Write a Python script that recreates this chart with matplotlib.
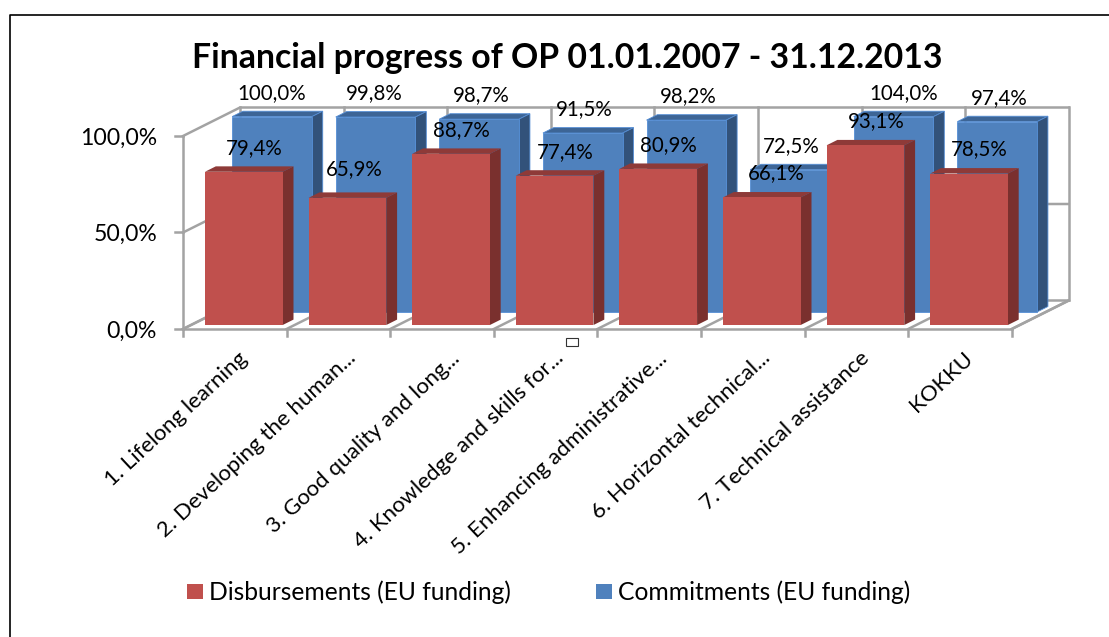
import matplotlib
matplotlib.use('Agg')
import matplotlib.pyplot as plt
from matplotlib.lines import Line2D
from matplotlib.patches import Polygon, Rectangle

plt.rcParams['font.family'] = ['Lato', 'DejaVu Sans']

# Data
categories = ['1. Lifelong learning', '2. Developing the human...', '3. Good quality and long...',
              '4. Knowledge and skills for...', '5. Enhancing administrative...',
              '6. Horizontal technical...', '7. Technical assistance', 'KOKKU']
disbursements = [79.4, 65.9, 88.7, 77.4, 80.9, 66.1, 93.1, 78.5]
commitments = [100.0, 99.8, 98.7, 91.5, 98.2, 72.5, 104.0, 97.4]
y_ticks = [0, 50, 100]
y_max = 100

W, H = 1109, 637
X0, Y0 = 183, 329      # pixel position of the front axis corner
CAT_W, PCT_H = 103.6, 1.93
DEPTH_X = 57 / CAT_W   # wall depth in data units
DEPTH_Y = 28.5 / PCT_H
GRID = '#A3A3A3'

# hand placed labels in the original
blue_nudge = {0: (-2, 0), 1: (-3, 0), 6: (9, 0)}
red_nudge = {1: (-4, 5), 5: (4, 0)}


def fmt(v):
    return f'{v:.1f}%'.replace('.', ',')


def proj(x, y, d=0.0):
    return (x + d * DEPTH_X, y + d * DEPTH_Y)


def draw_bar(ax, i, value, left, width, d, thick, colors, bottom=0.0, edge=None):
    front, top, side = colors
    v = min(value, y_max)
    xl, xr = i + left, i + left + width
    ec = edge if edge else 'none'
    ax.add_patch(Polygon([proj(xl, v, d), proj(xr, v, d), proj(xr, v, d + thick), proj(xl, v, d + thick)],
                         fc=top, ec=ec, lw=0.6, zorder=3 + i))
    ax.add_patch(Polygon([proj(xr, bottom, d), proj(xr, v, d), proj(xr, v, d + thick), proj(xr, bottom, d + thick)],
                         fc=side, ec=ec, lw=0.6, zorder=3 + i))
    ax.add_patch(Polygon([proj(xl, bottom, d), proj(xr, bottom, d), proj(xr, v, d), proj(xl, v, d)],
                         fc=front, ec=ec, lw=0.6, zorder=3 + i))


fig = plt.figure(figsize=(W / 100, H / 100), dpi=100)
ax = fig.add_axes([0, 0, 1, 1])
ax.set_xlim(-X0 / CAT_W, (W - X0) / CAT_W)
ax.set_ylim(-(H - Y0) / PCT_H, Y0 / PCT_H)
ax.axis('off')

n = len(categories)
grid_kw = dict(color=GRID, lw=1.8, zorder=1, solid_capstyle='projecting')

# walls and gridlines
for t in y_ticks:
    ax.plot(*zip(proj(0, t), proj(0, t, 1), proj(n, t, 1)), **grid_kw)
    ax.plot([-8 / CAT_W, 0], [t, t], **grid_kw)
ax.plot([0, 0], [0, y_max], **grid_kw)
ax.plot([0, n], [0, 0], **grid_kw)
ax.plot(*zip(proj(n, 0), proj(n, 0, 1)), **grid_kw)
for i in range(n + 1):
    ax.plot(*zip(proj(i, 0, 1), proj(i, y_max, 1)), **grid_kw)
    ax.plot(*zip(proj(i, 0), proj(i, 0, 1)), **grid_kw)
    ax.plot([i, i], [0, -7 / PCT_H], **grid_kw)

# bars
for i, v in enumerate(commitments):
    draw_bar(ax, i, v, 0.10, 0.77, 0.68, 0.19, ('#4F81BD', '#3D6596', '#32527A'), bottom=-1.2, edge='#558ED5')
for i, v in enumerate(disbursements):
    draw_bar(ax, i, v, 0.135, 0.75, 0.14, 0.19, ('#C0504D', '#8E3A38', '#7A302E'))

# data labels, drawn above the bars
for i, v in enumerate(commitments):
    x, y = proj(i + 0.50, min(v, y_max), 0.68)
    dx, dy = blue_nudge.get(i, (0, 0))
    ax.annotate(fmt(v), (x, y), xytext=(dx, 24 + dy), textcoords='offset pixels', ha='center', va='center',
                fontsize=14.8, color='black', zorder=30)
for i, v in enumerate(disbursements):
    x, y = proj(i + 0.61, v, 0.14)
    dx, dy = red_nudge.get(i, (0, 0))
    ax.annotate(fmt(v), (x, y), xytext=(dx, 24 + dy), textcoords='offset pixels', ha='center', va='center',
                fontsize=14.8, color='black', zorder=30)

# axis labels
for t in y_ticks:
    ax.annotate(fmt(t), (0, t), xytext=(-26, -2), textcoords='offset pixels', ha='right', va='center',
                fontsize=16.6, color='black')
for i, c in enumerate(categories):
    # the shortened names sit a bit further right
    dx = 8 if c.endswith('...') else 3
    ax.annotate(c, (i + 0.5, 0), xytext=(dx, -19), textcoords='offset pixels', ha='right', va='top',
                rotation=43, rotation_mode='anchor', fontsize=16, color='black')

fig.text(567.5 / W, 1 - 58 / H, 'Financial progress of OP 01.01.2007 - 31.12.2013', ha='center', va='center',
         fontsize=24.35, fontweight='bold', color='black')

# legend
for lx, col, lab in [(187, '#C0504D', 'Disbursements (EU funding)'), (596, '#4F81BD', 'Commitments (EU funding)')]:
    fig.add_artist(Rectangle((lx / W, 1 - 599 / H), 16 / W, 15 / H, transform=fig.transFigure, fc=col, ec='none'))
    fig.text((lx + 22) / W, 1 - 592 / H, lab, ha='left', va='center', fontsize=17.7, color='black')

# border and stray handle
fig.add_artist(Line2D([9.5 / W, 9.5 / W, 1], [0, 1 - 14.5 / H, 1 - 14.5 / H], color='black', lw=1.2))
fig.add_artist(Rectangle((566 / W, 1 - 346 / H), 12 / W, 8 / H, transform=fig.transFigure, fc='white', ec='#333333', lw=0.8))

fig.savefig('out.png', dpi=100)
